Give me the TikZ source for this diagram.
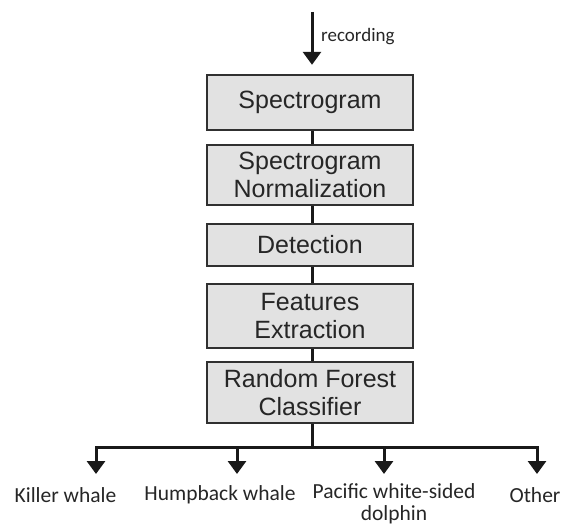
\documentclass[tikz,border=0pt]{standalone}
\usepackage{fontspec}
\setmainfont{Liberation Sans}
\newfontfamily\calib{Carlito}
\usetikzlibrary{arrows.meta}
\definecolor{boxfill}{HTML}{E2E2E2}
\definecolor{boxline}{HTML}{303030}
\tikzset{
  stepbox/.style={draw=boxline, line width=2.4pt, fill=boxfill, minimum width=206pt, inner sep=0pt, align=center, font=\fontsize{25}{28.5}\selectfont, text=black!85},
  link/.style={line width=3pt, draw=black!90},
  arr/.style={link, -{Triangle[width=18pt,length=13pt]}},
  lab/.style={font=\calib\fontsize{21.5}{22}\selectfont, inner sep=0pt, align=center, text=black!85}
}
\begin{document}
\begin{tikzpicture}[x=1pt,y=-1pt]
\useasboundingbox (0,0) rectangle (564,527);
\node[stepbox, minimum height=55pt] (b1) at (310,102.5) {Spectrogram};
\node[stepbox, minimum height=60pt] (b2) at (310,175) {Spectrogram\\Normalization};
\node[stepbox, minimum height=42pt] (b3) at (310,245) {Detection};
\node[stepbox, minimum height=64pt] (b4) at (310,316) {Features\\Extraction};
\node[stepbox, minimum height=61pt] (b5) at (310,392.5) {Random Forest\\Classifier};
\coordinate (in) at (312,12);
\draw[arr] (in) -- ([yshift=9pt]b1.north -| in);
\node[lab, anchor=west, font=\calib\fontsize{19}{20}\selectfont] (rec) at (321,37) {recording};
\draw[link] (b1.south -| in) -- (b2.north -| in);
\draw[link] (b2.south -| in) -- (b3.north -| in);
\draw[link] (b3.south -| in) -- (b4.north -| in);
\draw[link] (b4.south -| in) -- (b5.north -| in);
\coordinate (hub) at (312,447);
\coordinate (j1) at (96,447);
\coordinate (j2) at (237,447);
\coordinate (j3) at (384,447);
\coordinate (j4) at (537,447);
\draw[link] (b5.south -| in) -- (hub);
\draw[link, line cap=rect] (j1) -- (j4);
\coordinate (t1) at (96,474);
\coordinate (t2) at (237,474);
\coordinate (t3) at (384,474);
\coordinate (t4) at (537,474);
\draw[arr] (j1) -- (t1);
\draw[arr] (j2) -- (t2);
\draw[arr] (j3) -- (t3);
\draw[arr] (j4) -- (t4);
\node[lab] (l1) at (65.5,495) {Killer whale};
\node[lab] (l2) at (220,495) {Humpback whale};
\node[lab, anchor=north] (l3) at (394,483) {Pacific white-sided\\dolphin};
\node[lab] (l4) at (535,495) {Other};
\end{tikzpicture}
\end{document}
